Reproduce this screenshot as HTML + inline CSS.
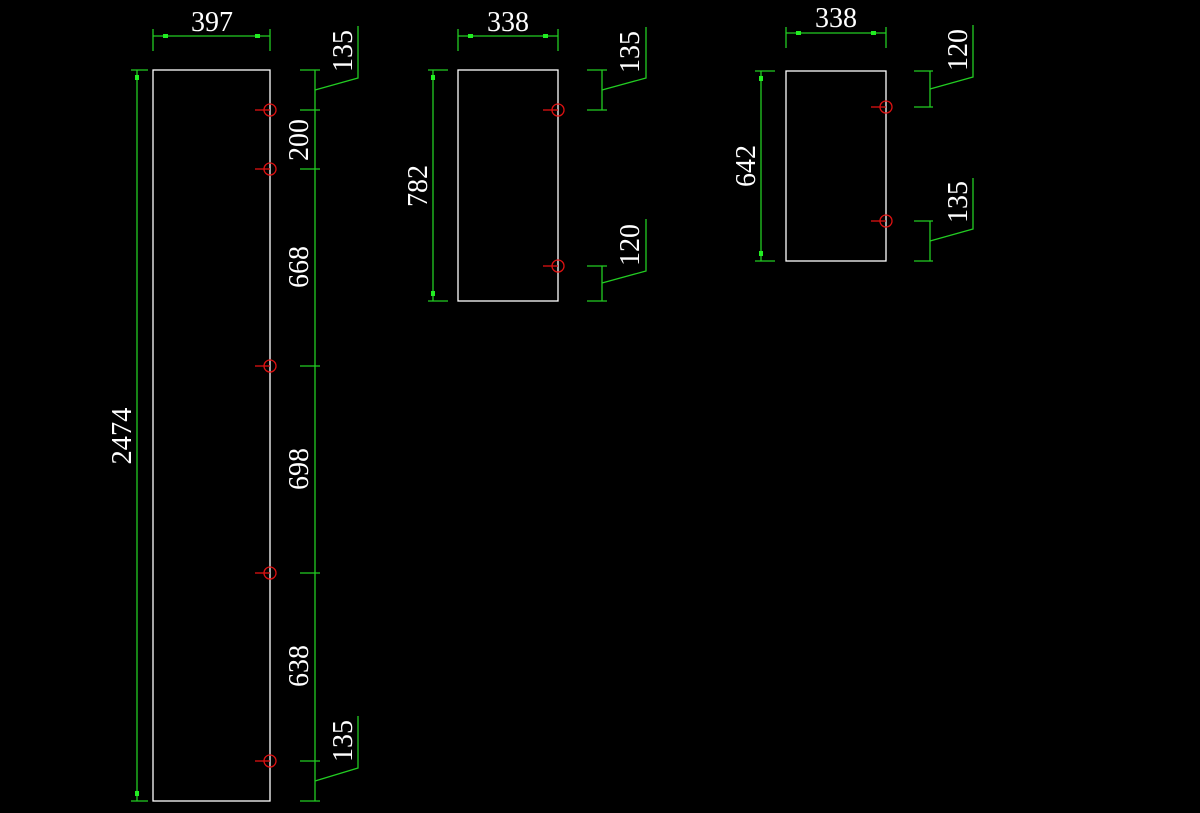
<!DOCTYPE html>
<html><head><meta charset="utf-8"><style>
html,body{margin:0;padding:0;background:#000;}
svg{display:block;}
text{font-family:"Liberation Serif",serif;font-size:29px;fill:#fff;}
</style></head><body>
<svg width="1200" height="813" viewBox="0 0 1200 813" xmlns="http://www.w3.org/2000/svg">
<g fill="none" stroke="#fff" stroke-width="1.3">
<rect x="153" y="70" width="117" height="731"/>
<rect x="458" y="70" width="100" height="231"/>
<rect x="786" y="71" width="100" height="190"/>
</g>
<g stroke="#22cc22" stroke-width="1.3" fill="none">
<!-- left width -->
<line x1="153" y1="36" x2="270" y2="36"/><line x1="153" y1="29" x2="153" y2="51"/><line x1="270" y1="29" x2="270" y2="51"/>
<!-- left height -->
<line x1="137" y1="70" x2="137" y2="801"/><line x1="131" y1="70" x2="148" y2="70"/><line x1="131" y1="801" x2="148" y2="801"/>
<!-- left chain -->
<line x1="315" y1="70" x2="315" y2="801"/>
<line x1="300" y1="70" x2="320" y2="70"/><line x1="300" y1="110" x2="320" y2="110"/><line x1="300" y1="169" x2="320" y2="169"/>
<line x1="300" y1="366" x2="320" y2="366"/><line x1="300" y1="573" x2="320" y2="573"/><line x1="300" y1="761" x2="320" y2="761"/><line x1="300" y1="801" x2="320" y2="801"/>
<polyline points="315,90 358,78 358,26"/>
<polyline points="315,781 358,768 358,716"/>
<!-- middle -->
<line x1="458" y1="36" x2="558" y2="36"/><line x1="458" y1="29" x2="458" y2="51"/><line x1="558" y1="29" x2="558" y2="51"/>
<line x1="433" y1="70" x2="433" y2="301"/><line x1="428" y1="70" x2="448" y2="70"/><line x1="428" y1="301" x2="448" y2="301"/>
<line x1="602" y1="70" x2="602" y2="110"/><line x1="587" y1="70" x2="607" y2="70"/><line x1="587" y1="110" x2="607" y2="110"/>
<polyline points="602,90 646,78 646,27"/>
<line x1="602" y1="266" x2="602" y2="301"/><line x1="587" y1="266" x2="607" y2="266"/><line x1="587" y1="301" x2="607" y2="301"/>
<polyline points="602,283 646,271 646,219"/>
<!-- right -->
<line x1="786" y1="33" x2="886" y2="33"/><line x1="786" y1="27" x2="786" y2="48"/><line x1="886" y1="27" x2="886" y2="48"/>
<line x1="761" y1="71" x2="761" y2="261"/><line x1="755" y1="71" x2="775" y2="71"/><line x1="755" y1="261" x2="775" y2="261"/>
<line x1="930" y1="71" x2="930" y2="107"/><line x1="914" y1="71" x2="933" y2="71"/><line x1="914" y1="107" x2="933" y2="107"/>
<polyline points="930,89 973,77 973,25"/>
<line x1="930" y1="221" x2="930" y2="261"/><line x1="914" y1="221" x2="933" y2="221"/><line x1="914" y1="261" x2="933" y2="261"/>
<polyline points="930,241 973,229 973,178"/>
</g>
<g fill="#22ee22">
<rect x="163" y="34" width="5" height="4"/><rect x="255" y="34" width="5" height="4"/>
<rect x="468" y="34" width="5" height="4"/><rect x="543" y="34" width="5" height="4"/>
<rect x="796" y="31" width="5" height="4"/><rect x="871" y="31" width="5" height="4"/>
<rect x="135" y="75" width="4" height="5"/><rect x="135" y="791" width="4" height="5"/>
<rect x="431" y="75" width="4" height="5"/><rect x="431" y="291" width="4" height="5"/>
<rect x="759" y="76" width="4" height="5"/><rect x="759" y="251" width="4" height="5"/>
</g>
<g stroke="#dd1111" stroke-width="1.3" fill="none">
<circle cx="270" cy="110" r="6"/><line x1="255" y1="110" x2="270" y2="110"/>
<circle cx="270" cy="169" r="6"/><line x1="255" y1="169" x2="270" y2="169"/>
<circle cx="270" cy="366" r="6"/><line x1="255" y1="366" x2="270" y2="366"/>
<circle cx="270" cy="573" r="6"/><line x1="255" y1="573" x2="270" y2="573"/>
<circle cx="270" cy="761" r="6"/><line x1="255" y1="761" x2="270" y2="761"/>
<circle cx="558" cy="110" r="6"/><line x1="543" y1="110" x2="558" y2="110"/>
<circle cx="558" cy="266" r="6"/><line x1="543" y1="266" x2="558" y2="266"/>
<circle cx="886" cy="107" r="6"/><line x1="871" y1="107" x2="886" y2="107"/>
<circle cx="886" cy="221" r="6"/><line x1="871" y1="221" x2="886" y2="221"/>
</g>
<g text-anchor="middle">
<text x="212" y="31" textLength="42" lengthAdjust="spacingAndGlyphs">397</text>
<text x="508" y="31" textLength="42" lengthAdjust="spacingAndGlyphs">338</text>
<text x="836" y="27" textLength="42" lengthAdjust="spacingAndGlyphs">338</text>
<text transform="translate(131,436) rotate(-90)" textLength="57" lengthAdjust="spacingAndGlyphs">2474</text>
<text transform="translate(308,140) rotate(-90)" textLength="42" lengthAdjust="spacingAndGlyphs">200</text>
<text transform="translate(308,267) rotate(-90)" textLength="42" lengthAdjust="spacingAndGlyphs">668</text>
<text transform="translate(308,469) rotate(-90)" textLength="42" lengthAdjust="spacingAndGlyphs">698</text>
<text transform="translate(308,666) rotate(-90)" textLength="42" lengthAdjust="spacingAndGlyphs">638</text>
<text transform="translate(352,51) rotate(-90)" textLength="42" lengthAdjust="spacingAndGlyphs">135</text>
<text transform="translate(352,741) rotate(-90)" textLength="42" lengthAdjust="spacingAndGlyphs">135</text>
<text transform="translate(427,186) rotate(-90)" textLength="42" lengthAdjust="spacingAndGlyphs">782</text>
<text transform="translate(639,52) rotate(-90)" textLength="42" lengthAdjust="spacingAndGlyphs">135</text>
<text transform="translate(639,245) rotate(-90)" textLength="42" lengthAdjust="spacingAndGlyphs">120</text>
<text transform="translate(755,166) rotate(-90)" textLength="42" lengthAdjust="spacingAndGlyphs">642</text>
<text transform="translate(967,50) rotate(-90)" textLength="42" lengthAdjust="spacingAndGlyphs">120</text>
<text transform="translate(967,202) rotate(-90)" textLength="42" lengthAdjust="spacingAndGlyphs">135</text>
</g>
</svg>
</body></html>
